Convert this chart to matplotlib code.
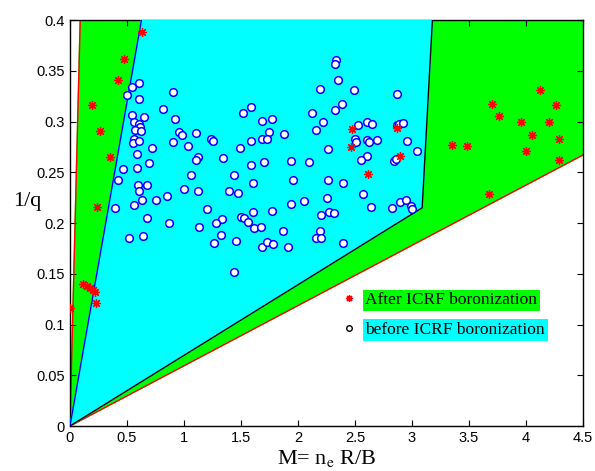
import matplotlib
matplotlib.use('Agg')
import matplotlib.pyplot as plt
from matplotlib.lines import Line2D

# region boundaries (M, 1/q)
green_x = [0, 0.09, 4.5, 4.5]
green_y = [0, 0.4, 0.4, 0.267]
cyan_x = [0, 0.627, 3.18, 3.09]
cyan_y = [0, 0.4, 0.4, 0.215]

# after ICRF boronization
after_m = [0.629, 0.473, 0.420, 0.194, 0.261, 0.348, 0.241, 0.116, 0.151, 0.174,
           0.198, 0.220, 0.232, 0.0, 2.474, 2.469, 2.872, 2.892, 2.614, 4.123,
           3.705, 4.267, 3.760, 3.954, 4.204, 4.050, 4.288, 3.353, 3.487, 3.997,
           4.288, 3.675]
after_q = [0.388, 0.362, 0.341, 0.316, 0.291, 0.265, 0.216, 0.140, 0.138, 0.136,
           0.134, 0.132, 0.121, 0.116, 0.293, 0.275, 0.294, 0.266, 0.248, 0.331,
           0.317, 0.316, 0.305, 0.300, 0.300, 0.287, 0.283, 0.277, 0.276, 0.271,
           0.262, 0.229]

# before ICRF boronization
before_m = [0.609, 0.546, 0.502, 0.609, 0.903, 0.818, 0.923, 0.540, 0.653, 0.566,
            0.603, 0.618, 0.572, 0.624, 0.566, 0.551, 0.609, 0.960, 0.981, 0.903,
            1.108, 1.036, 1.236, 1.253, 0.722, 0.589, 1.120, 1.108, 1.346, 0.694,
            0.589, 0.464, 0.424, 1.059, 1.442, 1.520, 1.587, 1.688, 1.584, 1.494,
            1.688, 1.703, 1.587, 1.607, 0.601, 0.609, 0.673, 1.003, 1.120, 1.393,
            1.473, 0.847, 0.755, 0.629, 0.566, 0.392, 1.201, 1.607, 0.673, 0.868,
            1.332, 1.277, 1.503, 1.526, 1.558, 1.129, 1.616, 1.680, 0.516, 0.641,
            1.325, 1.262, 1.460, 1.688, 1.442,
            2.332, 2.326, 2.356, 2.191, 2.489, 2.866, 2.391, 2.321, 2.126, 1.773,
            2.222, 2.158, 2.530, 2.605, 2.646, 2.866, 2.887, 2.924, 1.743, 1.729,
            1.877, 2.500, 2.513, 2.602, 2.626, 2.698, 2.959, 2.260, 3.044, 1.938,
            2.095, 2.605, 2.553, 2.843, 2.861, 1.958, 2.260, 2.396, 2.574, 2.252,
            1.938, 2.054, 2.640, 2.822, 2.896, 2.950, 2.988, 3.005, 1.773, 2.199,
            2.269, 2.315, 1.865, 2.191, 2.158, 2.199, 1.732, 1.778, 1.917, 2.399]
before_q = [0.338, 0.334, 0.326, 0.322, 0.329, 0.312, 0.302, 0.306, 0.304, 0.300,
            0.298, 0.295, 0.292, 0.291, 0.283, 0.279, 0.281, 0.290, 0.287, 0.280,
            0.289, 0.276, 0.283, 0.281, 0.274, 0.268, 0.265, 0.262, 0.264, 0.259,
            0.254, 0.253, 0.242, 0.247, 0.247, 0.308, 0.314, 0.301, 0.281, 0.274,
            0.283, 0.260, 0.257, 0.239, 0.237, 0.232, 0.237, 0.234, 0.232, 0.232,
            0.230, 0.227, 0.223, 0.223, 0.218, 0.215, 0.214, 0.211, 0.205, 0.200,
            0.204, 0.200, 0.206, 0.205, 0.201, 0.196, 0.195, 0.196, 0.185, 0.187,
            0.188, 0.180, 0.182, 0.176, 0.152,
            0.361, 0.357, 0.341, 0.332, 0.331, 0.327, 0.317, 0.311, 0.308, 0.302,
            0.300, 0.292, 0.297, 0.300, 0.298, 0.297, 0.298, 0.299, 0.290, 0.283,
            0.288, 0.283, 0.280, 0.282, 0.280, 0.282, 0.281, 0.273, 0.271, 0.261,
            0.260, 0.266, 0.262, 0.261, 0.263, 0.242, 0.242, 0.239, 0.229, 0.225,
            0.219, 0.222, 0.216, 0.215, 0.221, 0.223, 0.217, 0.214, 0.212, 0.208,
            0.211, 0.210, 0.192, 0.192, 0.185, 0.185, 0.181, 0.179, 0.176, 0.180]

xticks = [0, 0.5, 1, 1.5, 2, 2.5, 3, 3.5, 4, 4.5]
yticks = [0, 0.05, 0.1, 0.15, 0.2, 0.25, 0.3, 0.35, 0.4]

plt.rcParams['font.family'] = 'Liberation Sans'
plt.rcParams['mathtext.fontset'] = 'stix'

fig = plt.figure(figsize=(5.95, 4.71), dpi=100)
ax = fig.add_axes([0.1176, 0.0955, 0.862, 0.862])

# green region with red borders
ax.fill(green_x, green_y, color='#00ff00', zorder=1)
ax.plot([green_x[0], green_x[1]], [green_y[0], green_y[1]], color='red', lw=1, zorder=2)
ax.plot([green_x[0], green_x[3]], [green_y[0], green_y[3]], color='red', lw=1, zorder=2)

# cyan region
ax.fill(cyan_x, cyan_y, color='#00ffff', zorder=3)
ax.plot([cyan_x[0], cyan_x[1]], [cyan_y[0], cyan_y[1]], color='blue', lw=1, zorder=4)
ax.plot(cyan_x[2:] + [cyan_x[0]], cyan_y[2:] + [cyan_y[0]], color='black', lw=1, zorder=4)

ax.plot(before_m, before_q, 'o', ms=5.5, mfc='white', mec='blue', mew=1.1,
        ls='none', zorder=5)
ax.plot(after_m, after_q, marker=(8, 2, 0), ms=6.5, color='red', mew=0.9,
        ls='none', zorder=6)

ax.set_xlim(0, 4.5)
ax.set_ylim(0, 0.4)
ax.set_xticks(xticks)
ax.set_xticklabels([f'{t:g}' for t in xticks])
ax.set_yticks(yticks)
ax.set_yticklabels([f'{t:g}' for t in yticks])
ax.tick_params(direction='in', length=4, top=True, right=True, labelsize=10.5)
for s in ax.spines.values():
    s.set_linewidth(1)

ax.set_xlabel(r'M= n$_\mathrm{e}$ R/B', family='Liberation Serif', fontsize=16, labelpad=2)
ax.set_ylabel('1/q', family='Liberation Serif', fontsize=16, rotation=0, va='center')
ax.yaxis.set_label_coords(-0.083, 0.552)

handles = [Line2D([], [], marker=(8, 2, 0), color='red', ms=5, mew=0.9, ls='none'),
           Line2D([], [], marker='o', mfc='white', mec='black', ms=4, mew=1, ls='none')]
labels = ['After ICRF boronization', 'before ICRF boronization']
leg = ax.legend(handles, labels, loc='upper left', bbox_to_anchor=(0.5, 0.368),
                frameon=False, handlelength=0.8, handletextpad=0.55, labelspacing=0.78,
                prop={'family': 'Liberation Serif', 'size': 12.5})
for t, c in zip(leg.get_texts(), ['#00ff00', '#00ffff']):
    t.set_bbox(dict(facecolor=c, edgecolor='none', pad=2))

fig.savefig('out.png', dpi=100)
